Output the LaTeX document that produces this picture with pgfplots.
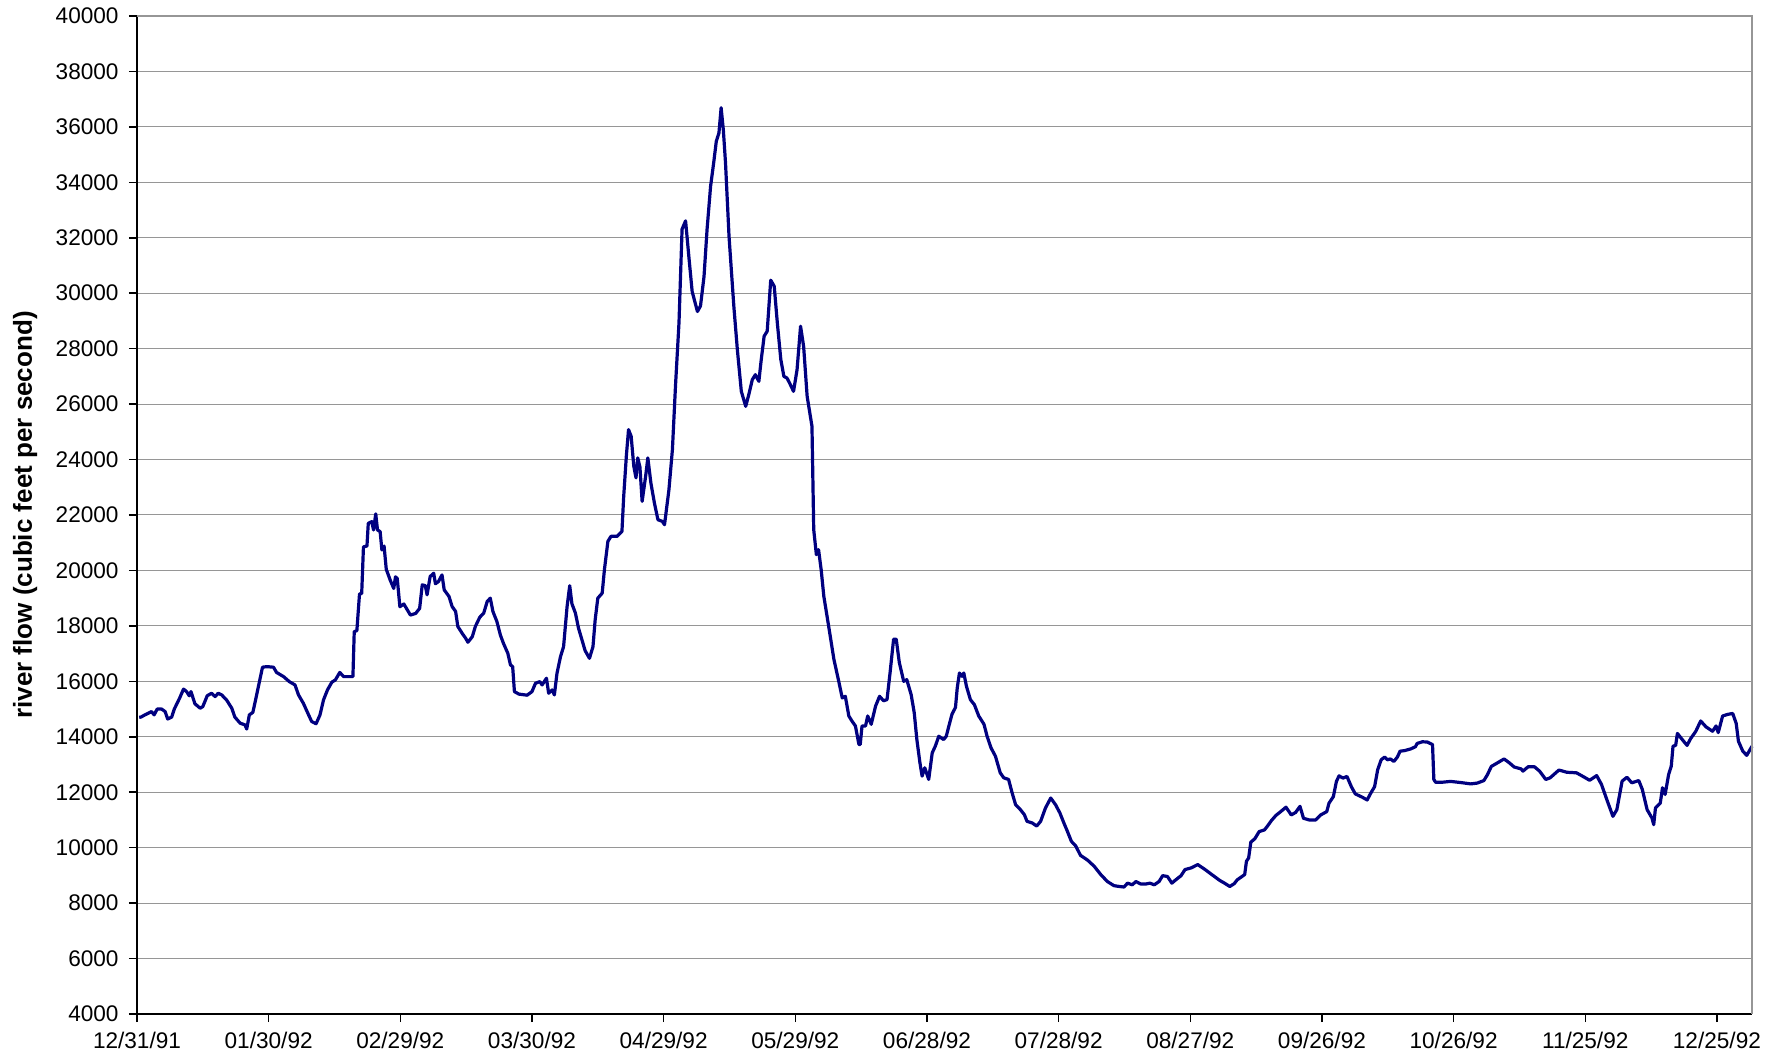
\documentclass[border=0pt]{standalone}
\usepackage{pgfplots}
\pgfplotsset{compat=1.18}
\usepackage{fontspec}
\setmainfont{Liberation Sans}
\definecolor{flow}{RGB}{0,0,128}
\definecolor{gridc}{RGB}{150,150,150}
\begin{document}
\begin{tikzpicture}
\path[use as bounding box] (-68.5pt,-25pt) rectangle (824.5pt,507pt);
\begin{axis}[
  at={(0pt,0pt)}, anchor=south west,
  scale only axis, width=807.5pt, height=499pt,
  clip=false,
  xmin=0, xmax=368, ymin=4000, ymax=40000,
  xtick={0,30,...,360},
  xticklabels={12/31/91,01/30/92,02/29/92,03/30/92,04/29/92,05/29/92,06/28/92,07/28/92,08/27/92,09/26/92,10/26/92,11/25/92,12/25/92},
  ytick={4000,6000,...,40000},
  scaled y ticks=false,
  /pgf/number format/1000 sep={},
  /pgf/number format/assume math mode=true,
  ymajorgrids, grid style={line width=0.5pt, color=gridc},
  axis x line*=bottom, axis y line*=left,
  axis line style={black, line width=0.75pt},
  tick align=outside, major tick length=4pt,
  tick style={black, line width=0.75pt},
  tick label style={font=\fontsize{11.3}{13}\selectfont},
  xticklabel style={yshift=-1.7pt},
  yticklabel style={xshift=-1.7pt},
  ylabel={river flow (cubic feet per second)},
  ylabel style={at={(axis description cs:-0.0693,0.5)}, anchor=center, font=\bfseries\fontsize{13}{15}\selectfont},
]
\addplot[color=flow, line width=1.6pt, line join=round, mark=none] coordinates {
(0.5,14700)(0.9,14710)(1.8,14790)(2.6,14850)(3.3,14910)(3.9,14790)(4.6,15000)(5.6,15000)(6.4,14910)(7.0,14640)
(7.9,14710)(8.5,15000)(9.7,15390)(10.6,15720)(11.3,15630)(11.9,15480)(12.3,15630)(13.2,15190)(14.4,15030)(15.0,15090)
(16.0,15480)(17.0,15570)(17.8,15450)(18.5,15570)(19.3,15510)(20.4,15330)(21.6,15030)(22.3,14710)(23.5,14490)(24.6,14430)
(25.0,14280)(25.6,14790)(26.4,14880)(27.1,15390)(27.9,15990)(28.6,16510)(29.6,16530)(31.1,16510)(31.8,16320)(33.4,16170)
(34.7,15990)(36.0,15870)(36.8,15510)(37.9,15210)(39.1,14790)(39.8,14550)(40.8,14470)(41.7,14790)(42.5,15330)(43.4,15690)
(44.4,15970)(45.2,16050)(46.2,16320)(47.1,16170)(49.2,16170)(49.5,17790)(50.1,17830)(50.7,19150)(51.2,19170)(51.6,20850)
(52.4,20880)(52.7,21700)(53.5,21760)(53.9,21460)(54.4,22040)(54.8,21460)(55.4,21400)(55.8,20740)(56.3,20880)(56.8,20040)
(57.7,19650)(58.5,19350)(58.9,19770)(59.3,19710)(59.9,18690)(60.8,18790)(61.4,18630)(62.3,18390)(63.5,18450)(64.4,18630)
(65.0,19480)(65.7,19450)(66.1,19120)(66.8,19780)(67.6,19900)(68.0,19520)(68.7,19600)(69.5,19840)(70.0,19300)(71.1,19060)
(71.8,18700)(72.6,18520)(73.1,17980)(74.1,17730)(74.9,17550)(75.4,17410)(76.4,17610)(77.1,17980)(78.1,18310)(79.0,18460)
(79.8,18880)(80.5,19000)(81.1,18520)(82.0,18160)(82.8,17670)(83.5,17370)(84.5,17010)(85.1,16590)(85.6,16530)(86.0,15630)
(87.0,15540)(88.9,15500)(90.0,15630)(90.8,15930)(91.8,15990)(92.3,15870)(93.3,16110)(93.8,15570)(94.6,15690)(95.1,15510)
(95.7,16290)(96.5,16890)(97.2,17250)(98.0,18700)(98.6,19450)(99.1,18800)(99.9,18460)(100.6,17920)(101.4,17490)(102.1,17110)
(103.1,16830)(103.9,17250)(104.4,18220)(105.0,19000)(106.0,19180)(106.5,20020)(107.3,21050)(108.0,21230)(109.4,21230)(110.5,21410)
(110.9,22670)(111.5,24120)(112.0,25080)(112.6,24840)(113.2,23760)(113.7,23340)(114.1,24060)(114.6,23730)(115.1,22490)(115.9,23400)
(116.4,24060)(117.1,23150)(117.9,22430)(118.7,21830)(119.7,21770)(120.2,21650)(121.2,22900)(122.0,24360)(122.7,26650)(123.5,28940)
(124.2,32310)(125.0,32610)(125.8,31230)(126.5,30060)(127.7,29340)(128.4,29540)(129.2,30600)(129.9,32310)(130.7,33860)(131.4,34700)
(132.0,35480)(132.6,35780)(133.1,36690)(133.6,35900)(134.1,34700)(134.9,32050)(136.0,29520)(136.8,27960)(137.7,26460)(138.7,25920)
(139.4,26340)(140.2,26880)(140.9,27060)(141.7,26820)(142.2,27550)(142.9,28450)(143.6,28630)(144.4,30470)(145.2,30250)(145.9,28940)
(146.7,27610)(147.4,27000)(148.1,26940)(148.7,26760)(149.6,26460)(150.4,27240)(151.2,28810)(151.9,28080)(152.7,26280)(153.8,25200)
(154.2,21470)(154.8,20570)(155.3,20750)(155.9,20020)(156.5,19070)(157.6,17990)(158.8,16790)(159.9,16000)(160.7,15400)(161.4,15460)
(162.2,14750)(162.9,14570)(163.7,14390)(164.5,13720)(164.8,13720)(165.2,14390)(166.0,14390)(166.5,14750)(167.3,14450)(168.3,15110)
(169.2,15460)(170.1,15300)(170.9,15340)(171.6,16320)(172.4,17520)(173.0,17520)(173.7,16680)(174.7,16000)(175.4,16060)(176.4,15520)
(177.1,14870)(177.7,13900)(178.4,13060)(178.9,12580)(179.5,12880)(180.4,12460)(181.2,13420)(181.9,13660)(182.7,14020)(183.8,13900)
(184.4,14020)(185.0,14390)(185.7,14810)(186.5,15060)(186.9,15760)(187.4,16300)(188.0,16180)(188.4,16300)(189.0,15820)(189.9,15340)
(190.8,15160)(191.8,14750)(193.0,14450)(193.7,14020)(194.6,13600)(195.6,13300)(196.7,12700)(197.5,12520)(198.6,12460)(199.4,11980)
(200.2,11550)(201.3,11370)(202.2,11190)(202.8,10950)(204.0,10890)(205.0,10780)(205.9,10950)(207.0,11430)(208.2,11790)(209.3,11550)
(210.3,11250)(211.2,10890)(212.0,10590)(212.9,10230)(213.9,10060)(215.0,9720)(216.6,9550)(218.1,9330)(219.6,9030)(221.1,8780)
(222.6,8630)(223.8,8600)(224.9,8580)(225.7,8720)(226.8,8660)(227.6,8780)(228.7,8690)(229.9,8690)(230.8,8720)(231.8,8660)
(232.9,8780)(233.7,8990)(234.8,8960)(235.8,8720)(236.7,8840)(237.9,8990)(238.8,9210)(240.2,9270)(241.7,9390)(243.2,9230)
(244.4,9090)(245.5,8960)(246.7,8820)(247.8,8720)(249.0,8600)(250.0,8700)(250.7,8840)(251.6,8940)(252.4,9030)(252.8,9510)
(253.3,9630)(253.8,10200)(254.7,10320)(255.7,10580)(256.9,10640)(257.6,10780)(258.5,10980)(259.5,11160)(260.6,11300)(261.8,11460)
(262.5,11300)(263.0,11180)(264.0,11270)(265.0,11490)(265.8,11060)(267.1,11000)(268.6,11000)(269.7,11180)(271.1,11300)(271.6,11600)
(272.6,11840)(273.3,12390)(273.9,12590)(274.8,12510)(275.7,12570)(276.7,12200)(277.6,11940)(279.2,11820)(280.3,11720)(281.1,11960)
(282.0,12200)(282.7,12810)(283.5,13170)(284.3,13270)(284.9,13170)(285.6,13200)(286.4,13110)(287.2,13270)(287.8,13480)(288.8,13500)
(290.2,13560)(291.3,13640)(291.7,13760)(292.9,13820)(294.0,13810)(295.2,13720)(295.5,12460)(295.9,12360)(297.4,12360)(299.3,12390)
(301.6,12350)(303.9,12300)(305.4,12330)(306.9,12420)(307.7,12630)(308.6,12930)(310.0,13060)(311.5,13200)(312.7,13060)(313.8,12910)
(315.4,12840)(315.8,12760)(317.0,12920)(318.4,12920)(319.6,12760)(321.0,12460)(322.0,12520)(324.0,12800)(325.8,12720)(328.0,12700)
(329.7,12550)(331.0,12430)(332.6,12600)(333.7,12280)(334.9,11740)(336.3,11130)(337.2,11370)(338.4,12400)(339.5,12540)(340.6,12340)
(342.2,12420)(343.0,12100)(344.1,11370)(345.2,11070)(345.6,10830)(346.0,11430)(347.1,11610)(347.6,12160)(348.2,11920)(349.0,12640)
(349.6,12940)(350.0,13660)(350.6,13690)(351.0,14120)(352.1,13900)(353.2,13690)(354.0,13930)(355.2,14200)(356.3,14570)(357.5,14360)
(359.0,14200)(359.8,14390)(360.3,14150)(361.3,14750)(362.5,14810)(363.6,14840)(364.4,14480)(364.9,13840)(365.9,13480)(366.8,13330)
(368.0,13660)
};
\draw[color=gridc, line width=1pt] (rel axis cs:0,1) -- (rel axis cs:1,1) -- (rel axis cs:1,0);
\end{axis}
\end{tikzpicture}
\end{document}
